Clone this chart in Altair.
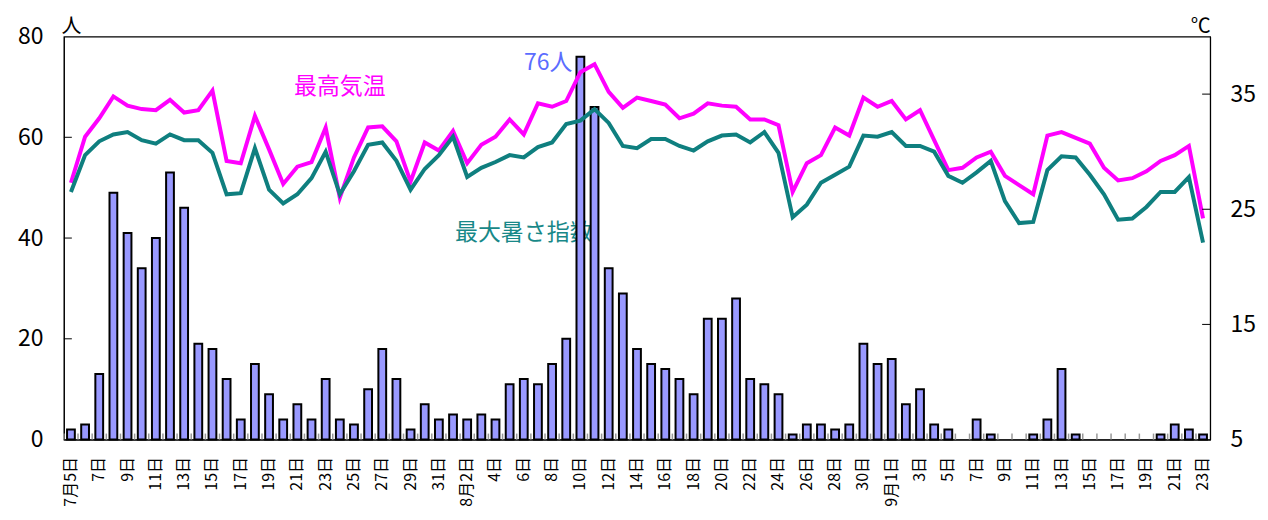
import json
import altair as alt
import pandas as pd

FONT = "Noto Sans CJK JP"

# days: July 5 .. Sept 23
months = [7] * 27 + [8] * 31 + [9] * 23
days = list(range(5, 32)) + list(range(1, 32)) + list(range(1, 24))

# 熱中症搬送者数（人）
patients = [
    2, 3, 13, 49, 41, 34, 40, 53, 46, 19, 18, 12, 4, 15, 9, 4, 7, 4, 12, 4, 3, 10, 18, 12, 2, 7, 4,
    5, 4, 5, 4, 11, 12, 11, 15, 20, 76, 66, 34, 29, 18, 15, 14, 12, 9, 24, 24, 28, 12, 11, 9, 1, 3, 3, 2, 3, 19, 15,
    16, 7, 10, 3, 2, 0, 4, 1, 0, 0, 1, 4, 14, 1, 0, 0, 0, 0, 0, 1, 3, 2, 1,
]

# 最高気温（℃）
max_temp = [
    27.3, 31.3, 32.9, 34.8, 34.0, 33.7, 33.6, 34.5, 33.4, 33.6, 35.3, 29.2, 29.0, 33.1, 30.2, 27.2, 28.7, 29.1,
    32.1, 26.0, 29.5, 32.1, 32.2, 30.9, 27.4, 30.8, 30.1, 31.8, 29.0, 30.6, 31.3, 32.8, 31.5, 34.2, 33.9, 34.4,
    36.9, 37.6, 35.2, 33.8, 34.7, 34.4, 34.1, 32.9, 33.3, 34.2, 34.0, 33.9, 32.8, 32.8, 32.3, 26.5, 29.0, 29.7,
    32.1, 31.4, 34.7, 33.9, 34.4, 32.8, 33.6, 31.0, 28.4, 28.6, 29.5, 30.0, 27.9, 27.1, 26.3, 31.4, 31.7, 31.2,
    30.7, 28.6, 27.5, 27.7, 28.3, 29.2, 29.7, 30.5, 24.2,
]

# 最大暑さ指数（℃）
max_wbgt = [
    26.5, 29.7, 30.9, 31.5, 31.7, 31.0, 30.7, 31.5, 31.0, 31.0, 29.9, 26.3, 26.4, 30.3, 26.7, 25.5, 26.3, 27.7,
    30.0, 26.3, 28.3, 30.6, 30.8, 29.2, 26.7, 28.5, 29.7, 31.3, 27.8, 28.6, 29.1, 29.7, 29.5, 30.4, 30.8, 32.4,
    32.7, 33.7, 32.5, 30.5, 30.3, 31.1, 31.1, 30.5, 30.1, 30.9, 31.4, 31.5, 30.8, 31.7, 29.9, 24.3, 25.4, 27.3,
    28.0, 28.7, 31.4, 31.3, 31.7, 30.5, 30.5, 30.0, 27.9, 27.3, 28.2, 29.2, 25.7, 23.8, 23.9, 28.4, 29.6, 29.5,
    28.0, 26.3, 24.1, 24.2, 25.2, 26.5, 26.5, 27.8, 22.1,
]

left_ticks_vals = [20, 40, 60]
right_ticks_vals = [15, 25, 35]

tick_labels = []
for i, (m, d) in enumerate(zip(months, days)):
    if i % 2:
        tick_labels.append("")
    elif i == 0 or months[i - 2] != m:
        tick_labels.append(f"{m}月{d}日")
    else:
        tick_labels.append(f"{d}日")

W, H = 1149, 404
n = len(days)

df = pd.DataFrame({
    "idx": list(range(n)),
    "patients": patients,
    "temp": max_temp,
    "wbgt": max_wbgt,
})

x_scale = alt.Scale(paddingInner=0.45, paddingOuter=0.225)
x_axis = alt.Axis(
    title=None,
    labelExpr=f"{json.dumps(tick_labels, ensure_ascii=False)}[datum.value]",
    labelAngle=270,
    labelFontSize=16,
    labelPadding=17,
    ticks=False,
    tickSize=0,
    domainColor="black",
    labelColor="black",
)


def X(**kw):
    return alt.X("idx:O", scale=x_scale, axis=x_axis, **kw)


left_scale = alt.Scale(domain=[0, 80], nice=False)
left_axis = alt.Axis(
    values=[0, 20, 40, 60, 80],
    title="人",
    titleAngle=0,
    titleX=7,
    titleY=-4,
    titleAlign="center",
    titleBaseline="alphabetic",
    titleFontSize=20,
    titleFontWeight="normal",
    labelFontSize=23,
    labelPadding=21,
    ticks=False,
    tickSize=0,
    grid=False,
    domainColor="black",
    labelColor="black",
)

right_scale = alt.Scale(domain=[5, 40], nice=False)
right_axis = alt.Axis(
    orient="right",
    values=[5, 15, 25, 35],
    title="℃",
    titleAngle=0,
    titleX=0,
    titleY=-4,
    titleAlign="right",
    titleBaseline="alphabetic",
    titleFontSize=20,
    titleFontWeight="normal",
    labelFontSize=23,
    labelPadding=20,
    ticks=False,
    tickSize=0,
    grid=False,
    domainColor="black",
    labelColor="black",
)

base = alt.Chart(df)

bars = base.mark_bar(fill="#9999FF", stroke="black", strokeWidth=2).encode(
    x=X(), y=alt.Y("patients:Q", scale=left_scale, axis=left_axis)
).transform_filter("datum.patients > 0")

xticks = base.mark_rule(color="#999999", strokeWidth=1.5, xOffset=-W / n / 2).encode(
    x=X(), y=alt.value(H - 6), y2=alt.value(H)
)

lt = alt.Chart(pd.DataFrame({"v": left_ticks_vals})).mark_rule(color="black").encode(
    y=alt.Y("v:Q", scale=left_scale, axis=left_axis), x=alt.value(0), x2=alt.value(8)
)

wbgt_text = alt.Chart(pd.DataFrame({"idx": [32], "patients": [41], "t": ["最大暑さ指数"]})).mark_text(
    color="#188888", fontSize=23, font=FONT, align="center", baseline="middle"
).encode(x=X(), y=alt.Y("patients:Q", scale=left_scale, axis=left_axis), text="t:N")

temp_text = alt.Chart(pd.DataFrame({"idx": [19], "patients": [70], "t": ["最高気温"]})).mark_text(
    color="#FF00FF", fontSize=23, font=FONT, align="center", baseline="middle"
).encode(x=X(), y=alt.Y("patients:Q", scale=left_scale, axis=left_axis), text="t:N")

n76_text = alt.Chart(pd.DataFrame({"idx": [36], "patients": [76], "t": ["76人"]})).mark_text(
    color="#5B6CFF", fontSize=23, font=FONT, align="right", baseline="middle", dx=-8, dy=6
).encode(x=X(), y=alt.Y("patients:Q", scale=left_scale, axis=left_axis), text="t:N")

left = alt.layer(wbgt_text, bars, xticks, lt, temp_text, n76_text)

temp_line = base.mark_line(color="#FF00FF", strokeWidth=4).encode(
    x=X(), y=alt.Y("temp:Q", scale=right_scale, axis=right_axis)
)
wbgt_line = base.mark_line(color="#0F7F7F", strokeWidth=4).encode(
    x=X(), y=alt.Y("wbgt:Q", scale=right_scale, axis=right_axis)
)
rt = alt.Chart(pd.DataFrame({"v": right_ticks_vals})).mark_rule(color="black").encode(
    y=alt.Y("v:Q", scale=right_scale, axis=right_axis), x=alt.value(W - 8), x2=alt.value(W)
)

right = alt.layer(temp_line, wbgt_line, rt)

chart = (
    alt.layer(left, right)
    .resolve_scale(y="independent")
    .properties(
        width=W,
        height=H,
        padding={"left": 56, "top": 28, "right": 50, "bottom": 72},
        autosize=alt.AutoSizeParams(type="none"),
    )
    .configure_view(stroke="black", strokeWidth=1.2)
    .configure_axis(labelFont=FONT, titleFont=FONT)
    .configure_text(font=FONT)
)

chart.save("out.html", embed_options={"renderer": "svg", "actions": False})
